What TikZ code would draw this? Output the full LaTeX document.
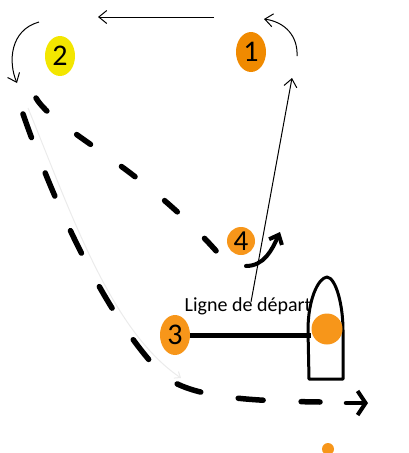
\documentclass[tikz,border=0pt]{standalone}
\usepackage{fontspec}
\setmainfont{Carlito}
\usetikzlibrary{shapes.geometric,arrows.meta}
\definecolor{markyellow}{HTML}{F3E600}
\definecolor{markorange}{HTML}{F08A00}
\definecolor{marklight}{HTML}{F7961A}
\tikzset{
  mark/.style={ellipse,fill=#1,inner sep=0pt,minimum width=30pt,minimum height=40pt,font=\fontsize{30}{30}\selectfont},
  roundmark/.style={circle,fill=marklight,inner sep=0pt,minimum size=#1},
  thinarrow/.style={line width=1pt,-{Straight Barb[length=8pt,width=13pt,line width=1pt]}},
  thickdash/.style={line width=5.5pt,line cap=round},
  boatline/.style={line width=3pt,line join=round}
}
\begin{document}
\begin{tikzpicture}[x=1pt,y=-1pt]
\useasboundingbox (0,0) rectangle (409,453);
% marks
\node[mark=markyellow] (n2) at (60,56) {2};
\node[mark=markorange] (n1) at (251,52) {1};
\node[roundmark=28pt,font=\fontsize{29}{29}\selectfont] (n4) at (241,241) {4};
\node[mark=marklight] (n3) at (175,335) {3};
% top arrows
\coordinate (ta) at (214,17);
\coordinate (tb) at (98,17);
\draw[thinarrow] (ta) -- (tb);
\coordinate (la) at (39,22);
\coordinate (lb) at (17,83);
\draw[thinarrow] (la) .. controls (10,30) and (8,62) .. (lb);
\coordinate (ra) at (297,56);
\coordinate (rb) at (264,19);
\draw[thinarrow] (ra) .. controls (298,36) and (285,22) .. (rb);
% faint line
\coordinate (fa) at (28,108);
\coordinate (fb) at (181,378);
\draw[black!8,line width=1pt,-{Straight Barb[length=5pt,width=8pt]}] (fa) .. controls (70,210) and (110,330) .. (fb);
% long thin arrow
\coordinate (sa) at (251,302);
\coordinate (sb) at (292,78);
\draw[thinarrow] (sa) -- (sb);
% inner dashed curve
\coordinate (da) at (36,98);
\coordinate (db) at (218,253);
\draw[thickdash,dash pattern=on 17pt off 38pt] (da) .. controls (55,130) and (140,165) .. (db);
% arrow at 4
\coordinate (qa) at (246,266);
\coordinate (qb) at (280,232);
\draw[line width=4pt,line cap=round,-{Straight Barb[length=8pt,width=14pt,line width=4pt]}] (qa) .. controls (264,266) and (272,250) .. (qb);
% outer dashed curve
\coordinate (oa) at (23,114);
\coordinate (om) at (160,372);
\coordinate (oe) at (320,402);
\coordinate (ob) at (368,403);
\draw[thickdash,dash pattern=on 25pt off 38pt] (oa) .. controls (60,220) and (110,320) .. (om) .. controls (185,398) and (250,401) .. (oe);
\draw[line width=4.5pt,line cap=round,-{Straight Barb[length=8pt,width=24pt,line width=4pt]}] (346,403) -- (ob);
% boat
\draw[boatline] (309,379) -- (308,330) .. controls (308,300) and (318,278) .. (327,277) .. controls (336,278) and (343,305) .. (343,330) -- (343,379) -- cycle;
\node[roundmark=31pt] (bc) at (327,329) {};
% start line
\draw[line width=5pt] (n3.east) -- (n3.east -| bc.west);
\node[font=\fontsize{20}{20}\selectfont,inner sep=0pt] (lbl) at (248,306) {Ligne de départ};
% small dot
\node[roundmark=12pt] (dot) at (328,449) {};
\end{tikzpicture}
\end{document}
